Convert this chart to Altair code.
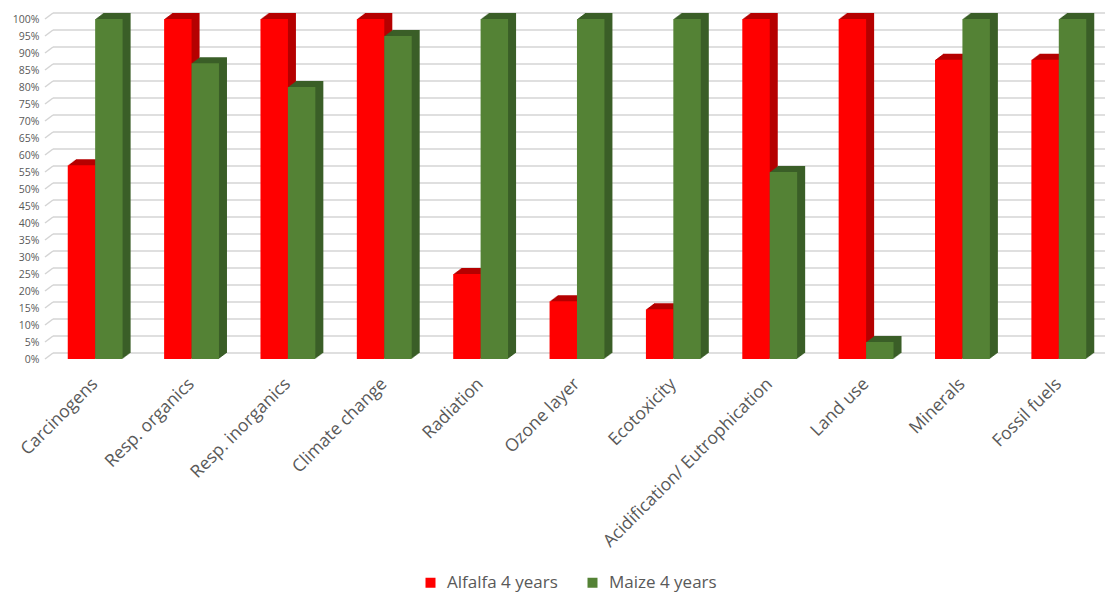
import altair as alt
import pandas as pd

categories = ["Carcinogens", "Resp. organics", "Resp. inorganics", "Climate change",
              "Radiation", "Ozone layer", "Ecotoxicity", "Acidification/ Eutrophication",
              "Land use", "Minerals", "Fossil fuels"]
alfalfa = [57, 100, 100, 100, 25, 17, 14.6, 100, 100, 88, 88]
maize = [100, 87, 80, 95, 100, 100, 100, 55, 5, 100, 100]
series = ["Alfalfa 4 years", "Maize 4 years"]
front_colors = ["#FF0000", "#548235"]
shade_colors = ["#B50000", "#3A5E27"]
y_ticks = list(range(0, 101, 5))

rows = []
for c, a, m in zip(categories, alfalfa, maize):
    rows.append({"cat": c, "series": series[0], "value": a})
    rows.append({"cat": c, "series": series[1], "value": m})
df = pd.DataFrame(rows)
ticks_df = pd.DataFrame({"v": y_ticks})

FONT = "Open Sans"
GRAY = "#595959"
HALF = 13.7  # half bar width offset in px

yscale = alt.Scale(domain=[0, 100], nice=False, zero=True)
yaxis = alt.Axis(values=y_ticks, labelExpr="datum.value + '%'", grid=False,
                 domain=False, ticks=False, labelColor=GRAY, labelFontSize=10.5,
                 labelFont=FONT, labelPadding=8, title=None, labelOverlap=False,
                 tickCount=21)
xscale = alt.Scale(domain=categories, paddingInner=0.43, paddingOuter=0.215)

grid = alt.Chart(ticks_df).mark_rule(color="#D4D4D4", strokeWidth=1.5, yOffset=-6).encode(
    y=alt.Y("v:Q", scale=yscale, axis=yaxis),
    x=alt.value(6), x2=alt.value(1058),
)
stubs = alt.Chart(ticks_df).mark_rule(color="#D4D4D4", strokeWidth=1.5, y2Offset=-6).encode(
    y=alt.Y("v:Q", scale=yscale, axis=yaxis), y2="v:Q",
    x=alt.value(-2), x2=alt.value(6),
)

xenc = alt.X("cat:N", sort=categories, scale=xscale,
             axis=alt.Axis(title=None, domain=False, ticks=False, labelAngle=-45,
                           labelAlign="right", labelBaseline="middle", labelPadding=22,
                           labelFontSize=17.5, labelFont=FONT, labelColor=GRAY, labelLimit=400))

def bars(sign, dx, dy, color_scale, legend):
    return alt.Chart(df).transform_filter(
        alt.datum.series == series[0 if sign < 0 else 1]
    ).mark_bar(width=alt.RelativeBandSize(0.5), xOffset=sign * HALF + dx,
               yOffset=dy, y2Offset=dy).encode(
        x=xenc,
        y=alt.Y("value:Q", scale=yscale, axis=yaxis), y2=alt.datum(0),
        color=alt.Color("series:N", scale=color_scale, legend=legend),
    )

shade_scale = alt.Scale(domain=series, range=shade_colors)
front_scale = alt.Scale(domain=series, range=front_colors)
legend = alt.Legend(title=None, orient="none", legendX=375, legendY=555,
                    direction="horizontal", symbolType="square",
                    symbolSize=100, symbolStrokeWidth=0,
                    labelFontSize=17, labelFont=FONT, labelColor=GRAY,
                    columnPadding=26, labelOffset=8)

shadow_layers = []
for sign in (-1, 1):
    for k in range(1, 9):
        shadow_layers.append(bars(sign, k, -0.75 * k, shade_scale, None))
front_layers = [bars(-1, 0, 0, front_scale, legend), bars(1, 0, 0, front_scale, legend)]

shadows = alt.layer(*shadow_layers)
fronts = alt.layer(*front_layers)

chart = alt.layer(grid, stubs, shadows, fronts).resolve_scale(color="independent").properties(
    width=1060, height=340,
    autosize=alt.AutoSizeParams(type="none"),
    padding={"left": 39, "top": 11, "right": 0, "bottom": 235},
).configure_view(stroke=None)

chart.save("out.html", embed_options={"renderer": "svg", "actions": False})
